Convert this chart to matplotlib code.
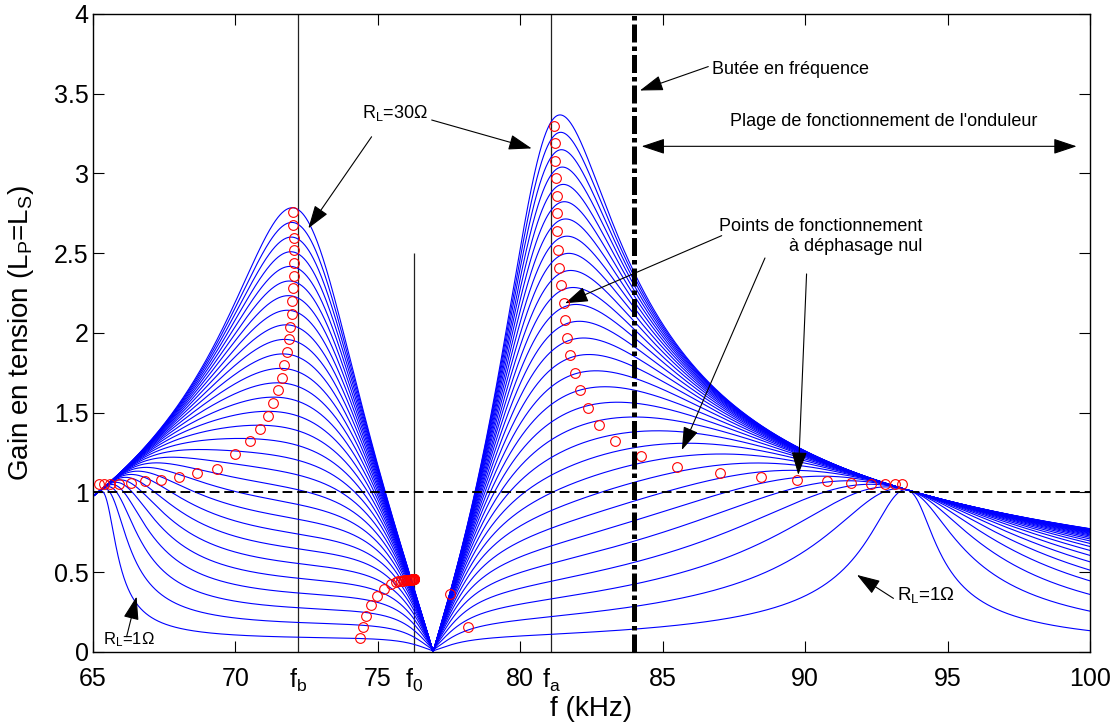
import numpy as np
import matplotlib

matplotlib.use("Agg")
import matplotlib.pyplot as plt

plt.rcParams["font.family"] = ["Liberation Sans", "DejaVu Sans"]
plt.rcParams["mathtext.default"] = "regular"

# load resistances of the curve family (ohm)
R_LOAD = [1, 2, 3, 4, 5, 6, 7, 8, 9, 10, 11, 12, 13, 14, 15,
          16, 17, 18, 19, 20, 21, 22, 23, 24, 25, 26, 27, 28, 29, 30]

# characteristic frequencies (kHz)
F_LOW, F_HIGH = 65.1, 93.6        # load independent points (gain = 1)
F_B, F_0, F_A = 72.2, 76.28, 81.08
F_NOTCH = 76.94                   # transmission zero
F_STOP = 83.99                    # "butee en frequence"

# gain model  G = 1 / |A + j b / R|
ALPHA = 3.16
B1, B2, F_S, TAPER = 0.9155, 0.06, 61.9, 2.0
KAPPA, TAU = 0.45, 0.6

# zero phase operating points (kHz, gain)
ZPA_F = [81.18, 81.21, 81.21, 81.25, 81.28, 81.28, 81.30, 81.34, 81.37, 81.44,
         81.53, 81.57, 81.65, 81.76, 81.91, 82.11, 82.39, 82.78, 83.32, 84.23,
         85.49, 87.0, 88.45, 89.7, 90.75, 91.6, 92.3, 92.8, 93.15, 93.4,
         72.03, 72.03, 72.06, 72.06, 72.06, 72.06, 72.03, 72.0, 71.97, 71.93,
         71.88, 71.81, 71.72, 71.62, 71.49, 71.33, 71.13, 70.87, 70.5, 70.0,
         69.34, 68.66, 68.02, 67.38, 66.82, 66.34, 65.92, 65.6, 65.38, 65.22,
         74.38, 74.48, 74.57, 74.76, 74.96, 75.22, 75.46, 75.64, 75.72, 75.8,
         75.87, 75.93, 75.98, 76.03, 76.07, 76.1, 76.13, 76.16, 76.18, 76.2,
         76.21, 76.22, 76.23, 76.24, 76.25, 76.26, 76.26, 76.27, 76.27, 76.28,
         77.55, 78.17]
ZPA_G = [3.30, 3.19, 3.08, 2.97, 2.86, 2.75, 2.64, 2.52, 2.41, 2.30,
         2.19, 2.08, 1.97, 1.86, 1.75, 1.64, 1.53, 1.42, 1.32, 1.23,
         1.16, 1.12, 1.097, 1.075, 1.069, 1.06, 1.05, 1.05, 1.05, 1.05,
         2.757, 2.678, 2.598, 2.52, 2.44, 2.36, 2.28, 2.20, 2.12, 2.04,
         1.96, 1.88, 1.80, 1.72, 1.64, 1.56, 1.48, 1.40, 1.32, 1.24,
         1.15, 1.12, 1.095, 1.078, 1.07, 1.057, 1.055, 1.05, 1.05, 1.05,
         0.086, 0.157, 0.226, 0.295, 0.35, 0.395, 0.426, 0.44, 0.445, 0.447,
         0.448, 0.449, 0.45, 0.451, 0.452, 0.452, 0.453, 0.453, 0.454, 0.454,
         0.455, 0.455, 0.455, 0.455, 0.456, 0.456, 0.456, 0.456, 0.456, 0.456,
         0.363, 0.159]

X_TICKS = [65, 70, 75, 80, 85, 90, 95, 100]
Y_TICKS = [0, 0.5, 1, 1.5, 2, 2.5, 3, 3.5, 4]


def gain(f, r):
    a = ALPHA * (f**2 - F_B**2) * (f**2 - F_A**2) / (f**2 * (f**2 - F_NOTCH**2))
    shape = (f - F_LOW) * (F_HIGH - f) * (f - F_LOW) / (f - F_LOW + TAPER)
    b = shape * (B1 / (f - F_S) + B2 / (np.abs(f - F_NOTCH) + 0.3) ** 2)
    d = np.clip(f - F_HIGH, 0, None)
    b = b * (1 + KAPPA * (1 - np.exp(-d / TAU)))
    return 1.0 / np.sqrt(a**2 + (b / r) ** 2)


fig = plt.figure(figsize=(11.11, 7.22), dpi=100)
ax = fig.add_axes([0.0837, 0.097, 0.8974, 0.8837])

f = np.linspace(65, 100, 3501)
with np.errstate(divide="ignore", invalid="ignore"):
    for r in R_LOAD:
        g = np.nan_to_num(gain(f, r), nan=0.0)
        ax.plot(f, g, color="#0000ff", lw=0.8, zorder=2)

ax.plot(ZPA_F, ZPA_G, "o", mfc="none", mec="red", ms=7, mew=0.8, zorder=4)

ax.vlines([F_B, F_A], 0, 4, color="#222222", lw=0.9, zorder=1)
ax.vlines([F_0], 0, 2.5, color="#222222", lw=0.9, zorder=1)
ax.axvline(F_STOP, color="k", lw=3.6, ls=(0, (3.6, 0.8, 0.9, 0.8)), zorder=5)
ax.axhline(1, color="k", lw=1.4, ls=(0, (5, 2.5)), zorder=3)

ax.set_xlim(65, 100)
ax.set_ylim(0, 4)
ax.set_xticks(X_TICKS)
ax.set_xticklabels([str(v) for v in X_TICKS])
ax.set_yticks(Y_TICKS)
ax.set_yticklabels(["%g" % v for v in Y_TICKS])
ax.tick_params(direction="in", length=8, width=0.8, top=True, right=True,
               labelsize=18)
ax.tick_params(axis="x", pad=11)
ax.tick_params(axis="y", pad=3)
for s in ax.spines.values():
    s.set_linewidth(1.0)

for fx, name in [(F_B, "b"), (F_0, "0"), (F_A, "a")]:
    ax.annotate("f$_{%s}$" % name, xy=(fx, 0), xycoords=("data", "axes fraction"),
                xytext=(0, -11), textcoords="offset points",
                ha="center", va="top", fontsize=18)

ax.set_xlabel("f (kHz)", fontsize=20)
ax.set_ylabel("Gain en tension (L$_P$=L$_S$)", fontsize=20)
ax.xaxis.set_label_coords(0.5, -0.069)
ax.yaxis.set_label_coords(-0.057, 0.5)

arrow = dict(arrowstyle="-|>,head_length=0.9,head_width=0.3", color="k",
             lw=0.8, shrinkA=0, shrinkB=0, mutation_scale=16)
darrow = dict(arrowstyle="<|-|>,head_length=0.9,head_width=0.3", color="k",
              lw=0.8, shrinkA=0, shrinkB=0, mutation_scale=16)

ax.text(74.43, 3.38, "R$_L$=30Ω", fontsize=13, va="center", ha="left")
ax.annotate("", xy=(72.56, 2.656), xytext=(74.78, 3.23), arrowprops=arrow)
ax.annotate("", xy=(80.40, 3.157), xytext=(76.89, 3.335), arrowprops=arrow)

ax.text(86.73, 3.65, "Butée en fréquence", fontsize=13, va="center", ha="left")
ax.annotate("", xy=(84.2, 3.52), xytext=(86.6, 3.67), arrowprops=arrow)

ax.text(92.77, 3.325, "Plage de fonctionnement de l'onduleur", fontsize=13,
        va="center", ha="center")
ax.annotate("", xy=(84.26, 3.17), xytext=(99.53, 3.17), arrowprops=darrow)

ax.text(94.12, 2.67, "Points de fonctionnement", fontsize=13, va="center", ha="right")
ax.text(94.12, 2.54, "à déphasage nul", fontsize=13, va="center", ha="right")
ax.annotate("", xy=(81.57, 2.186), xytext=(87.07, 2.61), arrowprops=arrow)
ax.annotate("", xy=(85.67, 1.266), xytext=(88.59, 2.47), arrowprops=arrow)
ax.annotate("", xy=(89.76, 1.11), xytext=(90.05, 2.37), arrowprops=arrow)

ax.text(93.21, 0.357, "R$_L$=1Ω", fontsize=13.5, va="center", ha="left")
ax.annotate("", xy=(91.82, 0.483), xytext=(93.1, 0.336), arrowprops=arrow)

ax.text(65.36, 0.075, "R$_L$=1Ω", fontsize=12, va="center", ha="left")
ax.annotate("", xy=(66.53, 0.347), xytext=(66.18, 0.096), arrowprops=arrow)

fig.savefig("out.png", dpi=100, facecolor="white")
